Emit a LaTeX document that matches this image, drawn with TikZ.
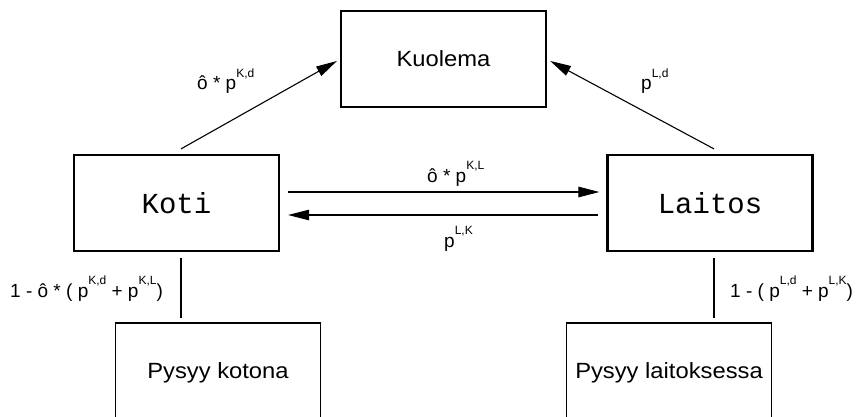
\documentclass[tikz,border=0pt]{standalone}
\usepackage{fontspec}
\setmainfont{Liberation Sans}
\newfontfamily\leveafont{Liberation Sans}[FakeStretch=1.08]
\newfontfamily\kirjoitin{Liberation Mono}
\usetikzlibrary{positioning,arrows.meta}
\newcommand{\ylos}[1]{\raisebox{0.68em}{\fontsize{12}{12}\selectfont #1}}

\begin{document}
\begin{tikzpicture}[%
x=1pt,y=-1pt,
>={Triangle[length=21pt,width=10.5pt]},
laatikko/.style={
rectangle,draw,
line width=1.1pt,
minimum width=205pt,
minimum height=96pt,
font=\leveafont\fontsize{22}{24}\selectfont},
paksu/.style={
laatikko,
line width=2.2pt,
font=\kirjoitin\fontsize{29}{30}\selectfont},
pil/.style={
->,
line width=1.1pt},
nimi/.style={
inner sep=0pt,
anchor=base west,
font=\fontsize{19}{20}\selectfont}
]
\useasboundingbox (0,0) rectangle (859,417);
\clip (0,0) rectangle (859,417);
\node[laatikko] (kuolema) at (443.5,59) {Kuolema};
\node[paksu] (koti) at (176.5,203) {Koti};
\node[paksu] (laitos) at (710,203) {Laitos};
\node[laatikko,minimum height=100pt] (kotona) at (218,373) {Pysyy kotona};
\node[laatikko,minimum height=100pt] (laitoksessa) at (669,373) {Pysyy laitoksessa};
\coordinate (kk) at ([xshift=4.5pt]koti.south);
\coordinate (lk) at ([xshift=4pt]laitos.south);
% nuolet
\draw[pil,shorten >=4pt] ([xshift=4.5pt,yshift=5pt]koti.north) -- (kuolema.west);
\draw[pil,shorten >=4pt] ([xshift=4pt,yshift=5pt]laitos.north) -- (kuolema.east);
\draw[pil] ([xshift=8pt,yshift=11pt]koti.east) -- ([xshift=-7pt,yshift=11pt]laitos.west);
\draw[pil] ([xshift=-8pt,yshift=-12pt]laitos.west) -- ([xshift=8pt,yshift=-12pt]koti.east);
\draw[line width=1.1pt,shorten <=5.5pt,shorten >=4.5pt] (kk) -- (kk |- kotona.north);
\draw[line width=1.1pt,shorten <=5.5pt,shorten >=4.5pt] (lk) -- (lk |- laitoksessa.north);
% todennakoisyydet
\node[nimi] (okd) at (197,90) {ô * p\ylos{K,d}};
\node[nimi] (pld) at (641,90) {p\ylos{L,d}};
\node[nimi] (okl) at (427,182) {ô * p\ylos{K,L}};
\node[nimi] (plk) at (444,247) {p\ylos{L,K}};
\node[nimi] (kjaa) at (10,297) {1 - ô * ( p\ylos{K,d} + p\ylos{K,L})};
\node[nimi] (ljaa) at (730,297) {1 - ( p\ylos{L,d} + p\ylos{L,K})};
\end{tikzpicture}
\end{document}
